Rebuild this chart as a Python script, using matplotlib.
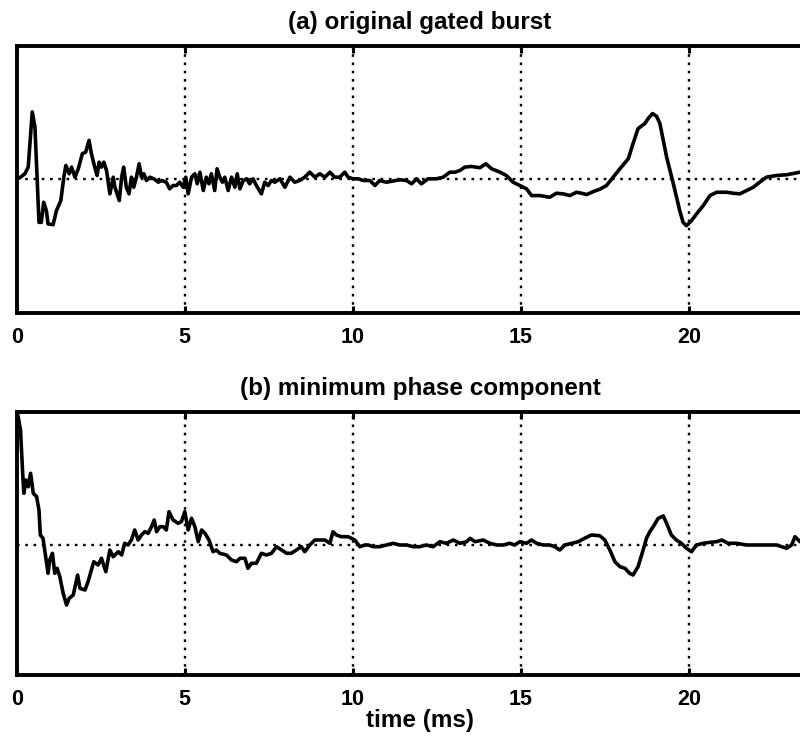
import matplotlib
matplotlib.use('Agg')
import matplotlib.pyplot as plt

plt.rcParams['font.family'] = ['Liberation Sans', 'DejaVu Sans']
plt.rcParams['font.weight'] = 'bold'

# (a) gated burst: time in ms, amplitude in arbitrary units
burst_t = [0.11, 0.24, 0.34, 0.46, 0.54, 0.66, 0.73, 0.80, 0.88, 0.93, 1.08, 1.18, 1.31, 1.40,
           1.46, 1.56, 1.63, 1.73, 1.83, 1.95, 2.05, 2.15, 2.22, 2.32, 2.39, 2.45, 2.52, 2.59,
           2.67, 2.77, 2.87, 2.92, 3.05, 3.12, 3.18, 3.26, 3.34, 3.41, 3.48, 3.56, 3.64, 3.71,
           3.78, 3.86, 3.96, 4.08, 4.21, 4.31, 4.45, 4.55, 4.65, 4.75, 4.85, 4.95, 5.03, 5.10,
           5.20, 5.30, 5.37, 5.45, 5.55, 5.64, 5.72, 5.79, 5.89, 5.96, 6.04, 6.12, 6.19, 6.29,
           6.39, 6.49, 6.56, 6.64, 6.74, 6.84, 6.93, 7.03, 7.13, 7.28, 7.38, 7.48, 7.58, 7.68,
           7.83, 7.98, 8.13, 8.27, 8.42, 8.57, 8.72, 8.87, 9.02, 9.17, 9.32, 9.46, 9.61, 9.76,
           9.86, 10.01, 10.16, 10.31, 10.51, 10.66, 10.80, 11.00, 11.40, 11.60, 11.75, 11.90,
           12.04, 12.24, 12.49, 12.69, 12.89, 13.04, 13.19, 13.33, 13.53, 13.78, 13.96, 14.13,
           14.38, 14.57, 14.77, 14.97, 15.17, 15.32, 15.57, 15.86, 16.06, 16.26, 16.46, 16.66,
           16.81, 16.96, 17.16, 17.35, 17.55, 17.75, 17.95, 18.20, 18.34, 18.49, 18.69, 18.79,
           18.92, 19.04, 19.14, 19.24, 19.34, 19.54, 19.73, 19.83, 19.93, 20.08, 20.23, 20.43,
           20.63, 20.83, 21.12, 21.32, 21.52, 21.72, 21.92, 22.11, 22.31, 22.61, 22.91, 23.31,
           23.60]
burst_amp = [2.3, 5.7, 12.3, 67.3, 52.3, -42.7, -42.7, -22.7, -31, -44.3, -45, -31, -21, 2.3,
             14, 5.7, 12.3, 2.3, 10.7, 25.7, 27.3, 39, 25.7, 12.3, 4, 17.3, 12.3, 17.3,
             9, -14.3, 2.3, -7.7, -21, 2.3, 12.3, -7.7, -14.3, 2.3, -7.7, 2.3, 15.7, 2.3,
             5.7, -1, 2.3, 0.7, -2.7, -1, -2.7, -9.3, -6, -6, -2.7, -7.7, 2.3, -14.3,
             2.3, 5.7, -4.3, 7.3, -11, 2.3, -4.3, 5.7, -11, 10.7, 2.3, -2.7, 2.3, -11,
             2.3, -7.7, 5.7, -9.3, -1, 0.7, -4.3, 0.7, -6, -14.3, -2.7, -6, -1, -2.7,
             0.7, -7.7, 2.3, -2.7, -1, 2.3, 7.3, 2.3, 5.7, 2.3, 7.3, 2.3, 2.3, 7.3,
             2.3, 0.7, 0.7, -1, -1, -6, -1, -2.7, -0.3, -1, -4.3, 0.7,
             -4.3, 0.7, 0.7, 2.3, 7.3, 7.3, 9, 12.3, 13, 11.7, 15.7, 10.7,
             7.3, 4, -2.7, -6, -9.3, -16, -16, -17.7, -13.7, -14.3, -16, -12.7,
             -13.7, -15, -12, -9.7, -6, 2.3, 10.7, 20.7, 35.7, 50.7, 55.7, 60.7,
             65.7, 63, 55.7, 39, 22.3, -4.3, -31, -42.7, -46, -41, -34.3, -26,
             -16, -12.7, -12.7, -13.7, -14.3, -11, -7.7, -2.7, 2.3, 4, 4.7, 7.3,
             8.0]

# (b) minimum phase component
minph_t = [0.0, 0.04, 0.11, 0.17, 0.21, 0.27, 0.34, 0.41, 0.49, 0.59, 0.66, 0.70, 0.78, 0.86,
           0.93, 0.98, 1.06, 1.13, 1.20, 1.28, 1.38, 1.48, 1.56, 1.68, 1.81, 1.88, 2.03, 2.12,
           2.29, 2.42, 2.52, 2.65, 2.77, 2.87, 3.02, 3.12, 3.21, 3.31, 3.41, 3.51, 3.61, 3.71,
           3.81, 3.91, 4.01, 4.09, 4.16, 4.26, 4.36, 4.45, 4.53, 4.65, 4.80, 4.90, 5.00, 5.10,
           5.20, 5.30, 5.40, 5.50, 5.60, 5.72, 5.84, 5.94, 6.04, 6.24, 6.39, 6.54, 6.64, 6.79,
           6.88, 6.98, 7.13, 7.28, 7.43, 7.58, 7.73, 7.88, 8.03, 8.17, 8.32, 8.47, 8.57, 8.72,
           8.87, 9.02, 9.17, 9.32, 9.41, 9.51, 9.66, 9.86, 10.06, 10.21, 10.36, 10.46, 10.61,
           10.80, 11.00, 11.20, 11.40, 11.60, 11.80, 11.99, 12.19, 12.39, 12.59, 12.79, 12.99,
           13.19, 13.39, 13.49, 13.64, 13.88, 14.08, 14.28, 14.48, 14.67, 14.82, 14.97, 15.17,
           15.32, 15.47, 15.67, 15.86, 16.01, 16.16, 16.31, 16.51, 16.71, 16.90, 17.10, 17.35,
           17.50, 17.65, 17.80, 17.95, 18.10, 18.24, 18.34, 18.49, 18.64, 18.74, 18.84, 18.94,
           19.09, 19.24, 19.34, 19.48, 19.63, 19.78, 19.93, 20.08, 20.23, 20.43, 20.63, 20.83,
           20.98, 21.17, 21.42, 21.72, 22.02, 22.31, 22.61, 22.91, 23.06, 23.16, 23.31, 23.60]
minph_amp = [133, 128.3, 115, 75, 51.7, 65, 58.3, 71.7, 51.7, 48.3, 35, 10, 6.7, -11.7,
             -28.3, -15, -8.3, -28.3, -23.3, -31.7, -48.3, -60, -53.3, -50, -30, -43.3, -45, -36.7,
             -16.7, -20, -13.3, -26.7, -5, -11.7, -6.7, -10, 1.7, 0, 5, 15, 5, 10,
             13.3, 11.7, 18.3, 25, 13.3, 18.3, 18.3, 15, 33.3, 25, 21.7, 23.3, 33.3, 15,
             26.7, 18.3, 3.3, 15, 11.7, 5, -6.7, -5, -8.3, -10, -15, -16.7, -13.3, -13.3,
             -23.3, -18.3, -18.3, -8.3, -10, -8.3, -1.7, -5, -8.3, -8.3, -5, -1.7, -6.7, 0,
             5, 5, 5, 1.7, 13.3, 10, 8.3, 8.3, 5, -1.7, 0, 0, -1.7,
             -1.7, 0, 1.7, 0, 0, -1.7, -1.7, 0, -1.7, 3.3, 1.7, 5,
             1.7, 3.3, 6.7, 3.3, 5, 1.7, 0, 0, 1.7, 0, 3.3, 1.7,
             5, 1.7, 0, 0, -1.7, -5, 0, 1.7, 3.3, 6.7, 10, 9.3,
             5, -5, -16.7, -21.7, -23.3, -28.3, -30, -21.7, -5, 6.7, 13.3, 18.3,
             26.7, 29, 21.7, 10, 5, 1.7, -3.3, -6.7, 0, 1.7, 2.7, 3.3,
             5, 1.7, 1.7, 0, 0, 0, 0, -3.3, 0, 8.3, 3.3, 2.0]

grid_times = [5, 10, 15, 20]
tick_times = [0, 5, 10, 15, 20]

fig = plt.figure(figsize=(8.0, 7.37), dpi=100)
ax_a = fig.add_axes([0.021, 0.5753, 1.008, 0.3623])
ax_b = fig.add_axes([0.021, 0.0841, 1.008, 0.3569])

panels = [
    (ax_a, burst_t, burst_amp, '(a) original gated burst', (-133, 133)),
    (ax_b, minph_t, minph_amp, '(b) minimum phase component', (-130, 133)),
]

dots = (0, (1.1, 2.4))
for ax, t, amp, title, ylim in panels:
    ax.plot(t, amp, color='black', linewidth=2.6, solid_joinstyle='round')
    for g in grid_times:
        ax.axvline(g, color='black', linestyle=dots, linewidth=1.7, zorder=0)
    ax.axhline(0, color='black', linestyle=dots, linewidth=1.7, zorder=0)
    ax.set_xlim(0, 24)
    ax.set_ylim(*ylim)
    ax.set_xticks(tick_times)
    ax.set_xticklabels([str(v) for v in tick_times], fontsize=15.5, fontweight='heavy')
    ax.set_yticks([])
    ax.tick_params(axis='x', direction='in', length=5, width=2.2, top=True, pad=10)
    for side in ax.spines.values():
        side.set_linewidth(2.8)
    ax.set_title(title, fontsize=17.5, fontweight='heavy', pad=12)

ax_b.set_xlabel('time (ms)', fontsize=17.5, fontweight='heavy', labelpad=-1)

fig.savefig('out.png', dpi=100)
